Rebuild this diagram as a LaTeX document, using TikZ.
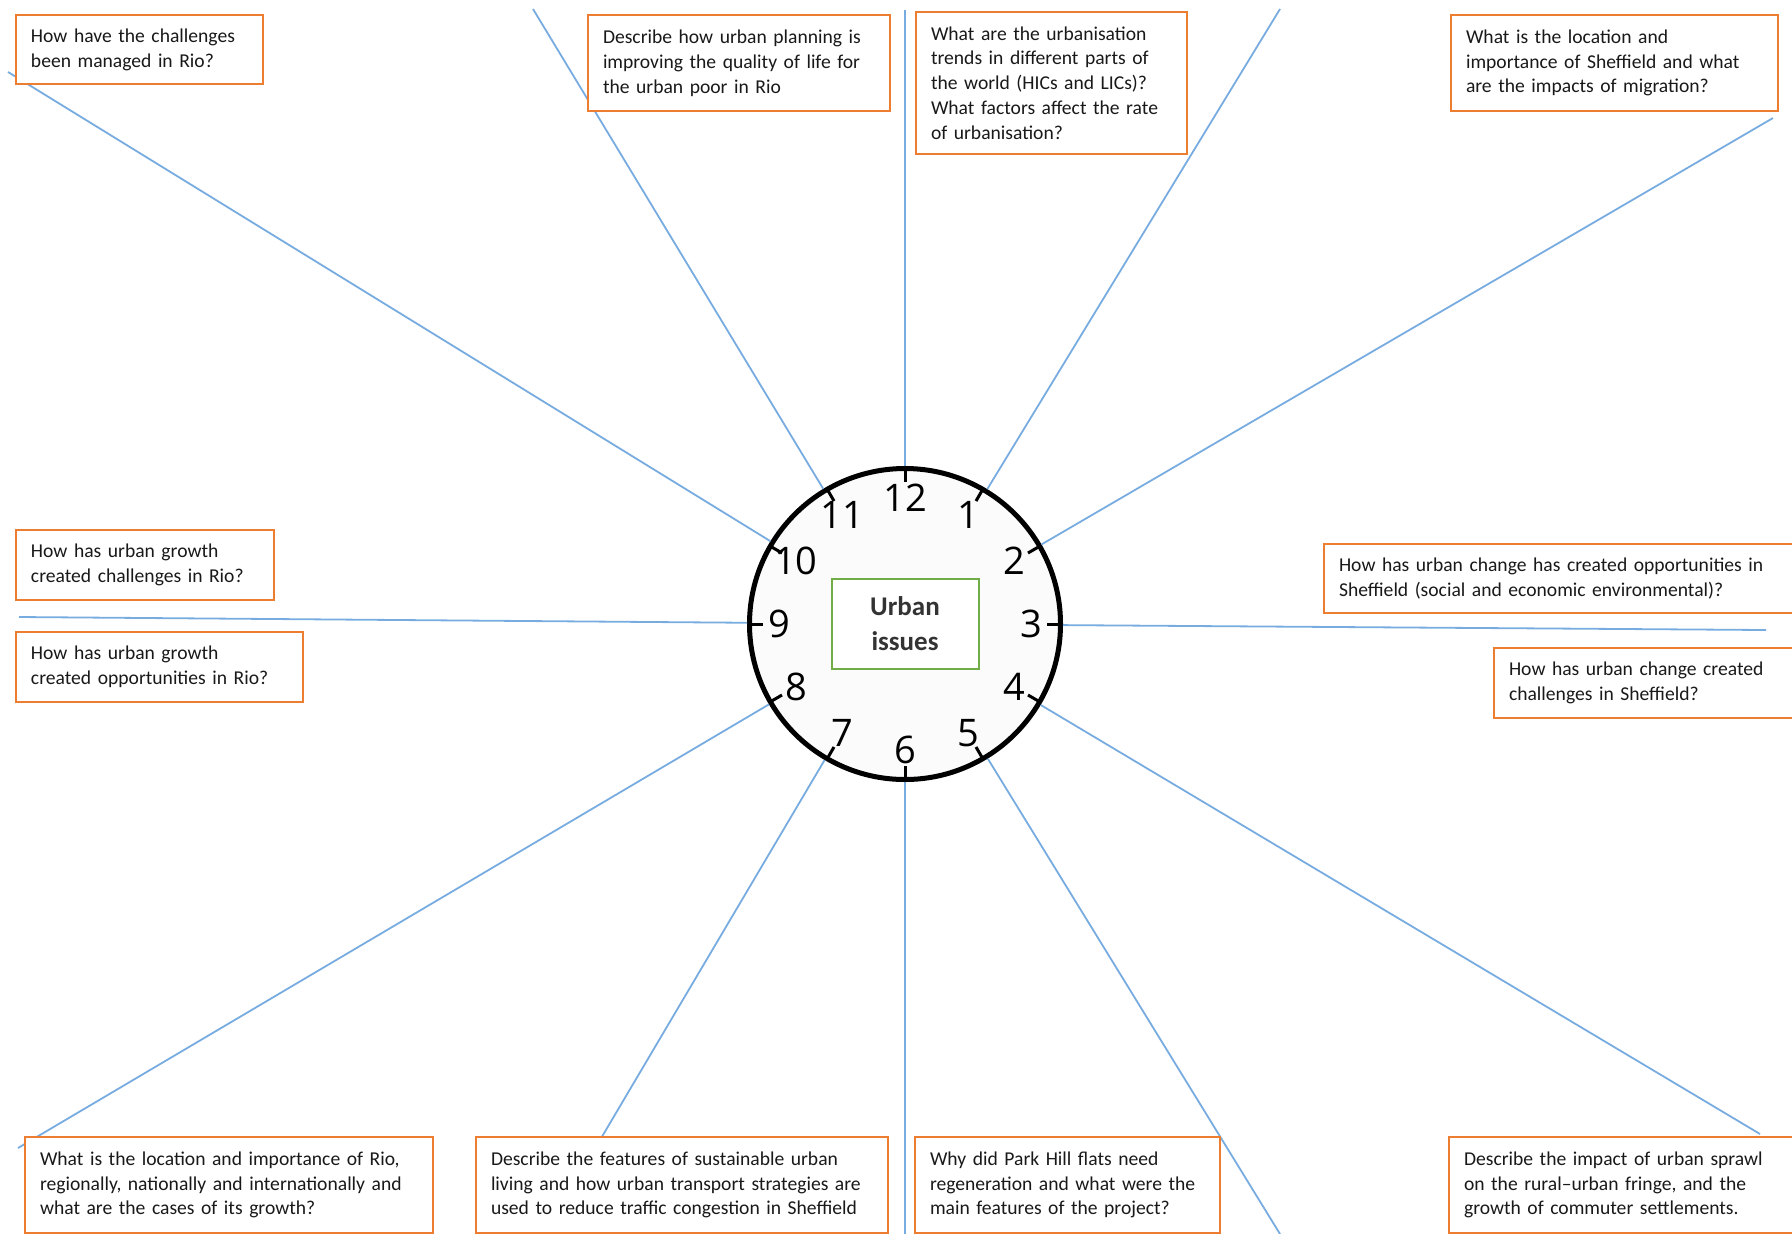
\documentclass[tikz,border=0pt]{standalone}
\usepackage{fontspec}
\setmainfont{Carlito}
\newfontfamily\dialfont{Open Sans}
\definecolor{boxorange}{RGB}{237,125,49}
\definecolor{spokeblue}{RGB}{120,172,224}
\definecolor{hubgreen}{RGB}{112,173,71}

\begin{document}
\begin{tikzpicture}[x=.5pt, y=.5pt,
    question/.style={draw=boxorange, line width=1pt, fill=white, anchor=north west,
        align=left, inner xsep=7.5pt, inner ysep=0pt,
        font=\fontsize{9.8}{12.4}\selectfont, text=black!90},
    spoke/.style={draw=spokeblue, line width=.9pt},
    tick/.style={line width=1.5pt}]
\useasboundingbox (0,0) rectangle (1792,-1233);

% clock face
\node[circle, draw, line width=2.5pt, fill=gray!3, minimum size=155.5pt, inner sep=0pt] (clock) at (905,-624) {};

% where the spokes end
\foreach \h/\x/\y in {1/1280/9, 2/1773/118, 3/1766/630, 4/1760/1134, 5/1280/1234, 6/905/1234,
    7/600/1140, 8/18/1148, 9/19/617, 10/8/72, 11/533/9, 12/905/10}
{
    \coordinate (e\h) at (\x,-\y);
}
\foreach \h in {1,...,12}
{
    \draw[spoke] (clock) -- (e\h);
    \draw[tick] ([shift={({90-30*\h}:142)}]clock.center) -- ([shift={({90-30*\h}:156)}]clock.center);
    \node[font=\dialfont\fontsize{19}{19}\selectfont] (n\h) at ([shift={({90-30*\h}:126)}]clock.center) {\h};
}

\node[draw=hubgreen, line width=1pt, fill=white, minimum width=73.5pt, minimum height=45pt,
    align=center, font=\fontsize{13.5}{17.5}\selectfont\bfseries, text=black!80] (hub) at (905,-624) {Urban\\issues};

% questions, top row
\node[question, text width=108.5pt, minimum height=34.5pt] (rioMgmt) at (15,-14)
    {How have the challenges\\been managed in Rio?};
\node[question, text width=136pt, minimum height=48pt] (rioPlan) at (587,-14)
    {Describe how urban planning is\\improving the quality of life for\\the urban poor in Rio};
\node[question, text width=120.5pt, minimum height=71pt] (trends) at (915,-11)
    {What are the urbanisation\\trends in different parts of\\the world (HICs and LICs)?\\What factors affect the rate\\of urbanisation?};
\node[question, text width=148.5pt, minimum height=48pt] (sheffLoc) at (1450,-14)
    {What is the location and\\importance of Sheffield and what\\are the impacts of migration?};

% questions, middle
\node[question, text width=114pt, minimum height=35pt] (rioChall) at (15,-529)
    {How has urban growth\\created challenges in Rio?};
\node[question, text width=128.5pt, minimum height=35pt] (rioOpp) at (15,-631)
    {How has urban growth\\created opportunities in Rio?};
\node[question, text width=225pt, minimum height=34.5pt] (sheffOpp) at (1323,-543)
    {How has urban change has created opportunities in\\Sheffield (social and economic environmental)?};
\node[question, text width=140pt, minimum height=35pt] (sheffChall) at (1493,-647)
    {How has urban change created\\challenges in Sheffield?};

% questions, bottom row
\node[question, text width=189pt, minimum height=48pt] (rioLoc) at (24,-1136)
    {What is the location and importance of Rio,\\regionally, nationally and internationally and\\what are the cases of its growth?};
\node[question, text width=191pt, minimum height=48pt] (sustain) at (475,-1136)
    {Describe the features of sustainable urban\\living and how urban transport strategies are\\used to reduce traffic congestion in Sheffield};
\node[question, text width=137.5pt, minimum height=48pt] (parkHill) at (914,-1136)
    {Why did Park Hill flats need\\regeneration and what were the\\main features of the project?};
\node[question, text width=160pt, minimum height=48pt] (sprawl) at (1448,-1136)
    {Describe the impact of urban sprawl\\on the rural--urban fringe, and the\\growth of commuter settlements.};

\end{tikzpicture}
\end{document}
